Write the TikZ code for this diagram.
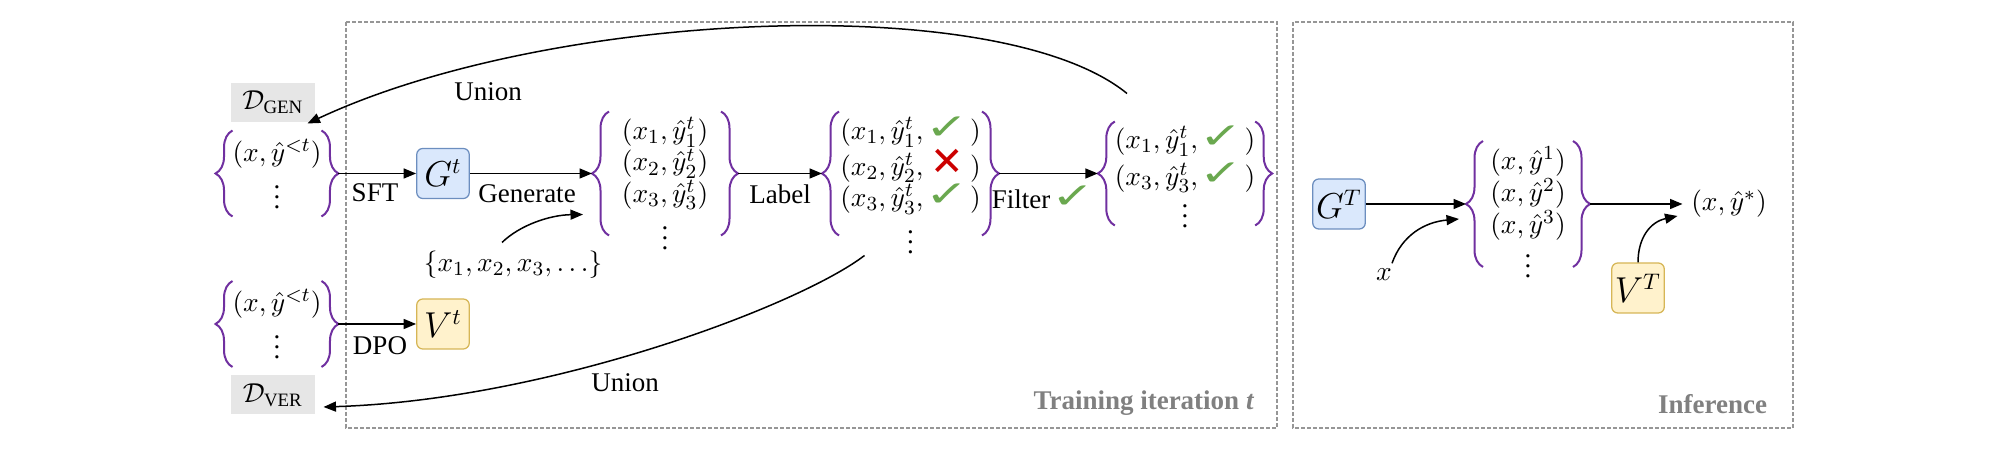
\documentclass[tikz,border=0pt]{standalone}
\usepackage{amsmath}
\usepackage{graphicx}
\usepackage{fontspec}
\setmainfont{Liberation Serif}
\newfontfamily\symfont{DejaVu Sans}
\usepackage{tikz}
\usetikzlibrary{positioning, arrows.meta, calc, decorations.pathreplacing}

\newcommand{\okmark}{\makebox[15pt]{\symfont\bfseries\fontsize{16}{16}\selectfont\color{okC}\scalebox{1.3}[0.9]{✓}}}
\newcommand{\badmark}{\makebox[15pt]{\symfont\bfseries\fontsize{16}{16}\selectfont\color{badC}✕}}
% rows of a set, first row raised by #1 above the set centre
\newcommand{\pairlist}[2]{\raisebox{#1}[0pt][0pt]{\begin{tabular}[t]{@{}l@{}}#2\end{tabular}}}
\newcommand{\dotsrow}{\multicolumn{1}{@{}c@{}}{$\vdots$}}

\begin{document}
\begin{tikzpicture}[x=0.4pt, y=-0.4pt,
    font=\fontsize{10.8}{13}\selectfont,
    modelbox/.style={draw, rounded corners=2.4pt, minimum width=21pt, minimum height=20pt,
                     inner sep=0pt, line width=0.5pt, font=\fontsize{13.5}{16}\selectfont},
    genbox/.style={modelbox, fill=genC, draw=genD},
    verbox/.style={modelbox, fill=verC, draw=verD},
    store/.style={fill=dataC, minimum width=33.6pt, minimum height=15.6pt, inner sep=0pt},
    pairset/.style={inner sep=0pt, outer xsep=6.8pt, font=\fontsize{10.8}{12}\selectfont},
    setbrace/.style={draw=setC, line width=0.8pt, decorate,
                     decoration={brace, amplitude=6.8pt, raise=-6.8pt}},
    flowarrow/.style={-{Triangle[length=5pt, width=4pt]}, line width=0.6pt},
    panel/.style={draw=frameC, line width=0.45pt, dash pattern=on 1.6pt off 0.8pt},
    boxtitle/.style={font=\fontsize{10.8}{13}\selectfont\bfseries, text=titleC, anchor=east},
]

% Color definitions
\definecolor{setC}{RGB}{112,48,160}
\definecolor{okC}{RGB}{106,168,79}
\definecolor{badC}{RGB}{204,0,0}
\definecolor{genC}{RGB}{218,232,252}
\definecolor{genD}{RGB}{108,142,191}
\definecolor{verC}{RGB}{255,242,204}
\definecolor{verD}{RGB}{214,182,86}
\definecolor{dataC}{RGB}{230,230,230}
\definecolor{frameC}{RGB}{150,150,150}
\definecolor{titleC}{RGB}{128,128,128}

\useasboundingbox (0,0) rectangle (2010,450);

% Panels
\draw[panel] (346,22) rectangle (1277,428);
\draw[panel] (1293,22) rectangle (1793,428);
\node[boxtitle] (traintitle) at (1263,403) {Training iteration \textit{t}};
\node[boxtitle] (inftitle) at (1776,404) {Inference};

% Data pools
\node[store] (dgen) at (273,102.5) {$\mathcal{D}_{\text{GEN}}$};
\node[store] (dver) at (273,395) {$\mathcal{D}_{\text{VER}}$};
\node[pairset, minimum width=35.2pt, minimum height=34pt] (gold) at (277,173.5)
  {\pairlist{4.9pt}{$(x,\hat{y}^{<t})$\\\dotsrow}};
\node[pairset, minimum width=35.2pt, minimum height=34pt] (vold) at (277,324)
  {\pairlist{4.9pt}{$(x,\hat{y}^{<t})$\\\dotsrow}};

% Models (training)
\node[genbox] (gt) at (443,173.5) {$G^t$};
\node[verbox] (vt) at (443,324) {$V^t$};

% Sampled, labelled and filtered sets
\node[pairset, minimum width=44.8pt, minimum height=49.2pt] (gen) at (665,173.5)
  {\pairlist{13.5pt}{$(x_1,\hat{y}_1^t)$\\$(x_2,\hat{y}_2^t)$\\$(x_3,\hat{y}_3^t)$\\\dotsrow}};
\node[pairset, minimum width=57.2pt, minimum height=49.2pt] (lab) at (910.5,173.5)
  {\pairlist{13.5pt}{$(x_1,\hat{y}_1^t,$\,\okmark\,$)$\\$(x_2,\hat{y}_2^t,$\,\badmark\,$)$\\
   $(x_3,\hat{y}_3^t,$\,\okmark\,$)$\\\dotsrow}};
\node[pairset, minimum width=55.2pt, minimum height=41.2pt] (filt) at (1185,173.5)
  {\pairlist{9.9pt}{$(x_1,\hat{y}_1^t,$\,\okmark\,$)$\\[2pt]$(x_3,\hat{y}_3^t,$\,\okmark\,$)$\\[-2pt]\dotsrow}};
\node (xs) at (513,265) {$\{x_1,x_2,x_3,\ldots\}$};

% Inference
\node[genbox] (gT) at (1339,204) {$G^T$};
\node[pairset, minimum width=36pt, minimum height=50pt] (cand) at (1528,204)
  {\pairlist{13.7pt}{$(x,\hat{y}^1)$\\$(x,\hat{y}^2)$\\$(x,\hat{y}^3)$\\[-1pt]\dotsrow}};
\node (out) at (1729,204) {$(x,\hat{y}^{*})$};
\node[verbox] (vT) at (1638,288) {$V^T$};
\node (xin) at (1384,275) {$x$};

% Braces
\draw[setbrace] (gold.south west) -- (gold.north west); \draw[setbrace] (gold.north east) -- (gold.south east);
\draw[setbrace] (vold.south west) -- (vold.north west); \draw[setbrace] (vold.north east) -- (vold.south east);
\draw[setbrace] (gen.south west) -- (gen.north west);   \draw[setbrace] (gen.north east) -- (gen.south east);
\draw[setbrace] (lab.south west) -- (lab.north west);   \draw[setbrace] (lab.north east) -- (lab.south east);
\draw[setbrace] (filt.south west) -- (filt.north west); \draw[setbrace] (filt.north east) -- (filt.south east);
\draw[setbrace] (cand.south west) -- (cand.north west); \draw[setbrace] (cand.north east) -- (cand.south east);

% Straight steps
\draw[flowarrow] (gold.east) -- (gt.west);
\draw[flowarrow] (gt.east) -- (gen.west);
\draw[flowarrow] (gen.east) -- (lab.west);
\draw[flowarrow] (lab.east) -- (filt.west);
\draw[flowarrow] (vold.east) -- (vt.west);
\draw[flowarrow] (gT.east) -- (cand.west);
\draw[flowarrow] (cand.east) -- (out.west);

\node (sft) at (375,193) {SFT};
\node (generate) at (527,194) {Generate};
\node (labeltxt) at (780,194) {Label};
\node (filtertxt) at (1042,197) {Filter\,\okmark};
\node (dpo) at (380,346) {DPO};

% Union loops back to the pools
\draw[flowarrow] ($(filt.north)+(-58,-28)$) .. controls (1000,-10) and (550,10) .. ($(dgen.south east)+(-8,1)$);
\draw[flowarrow] ($(lab.south)+(-46,20)$) .. controls (800,305) and (550,400) .. ($(dver.east)+(8,12)$);
\node (uniontop) at (488,92) {Union};
\node (unionbot) at (625,383) {Union};

% Prompts and verifier
\draw[flowarrow] ($(xs.north)+(-11,0)$) .. controls (520,225) and (550,215) .. ($(gen.south west)+(-9,-21)$);
\draw[flowarrow] ($(xin.north)+(8,3)$) .. controls (1402,235) and (1425,222) .. ($(cand.west)+(-7,15)$);
\draw[flowarrow] (vT.north) .. controls (1638,238) and (1650,222) .. ($(out.west)+(-5,12)$);

\end{tikzpicture}
\end{document}
